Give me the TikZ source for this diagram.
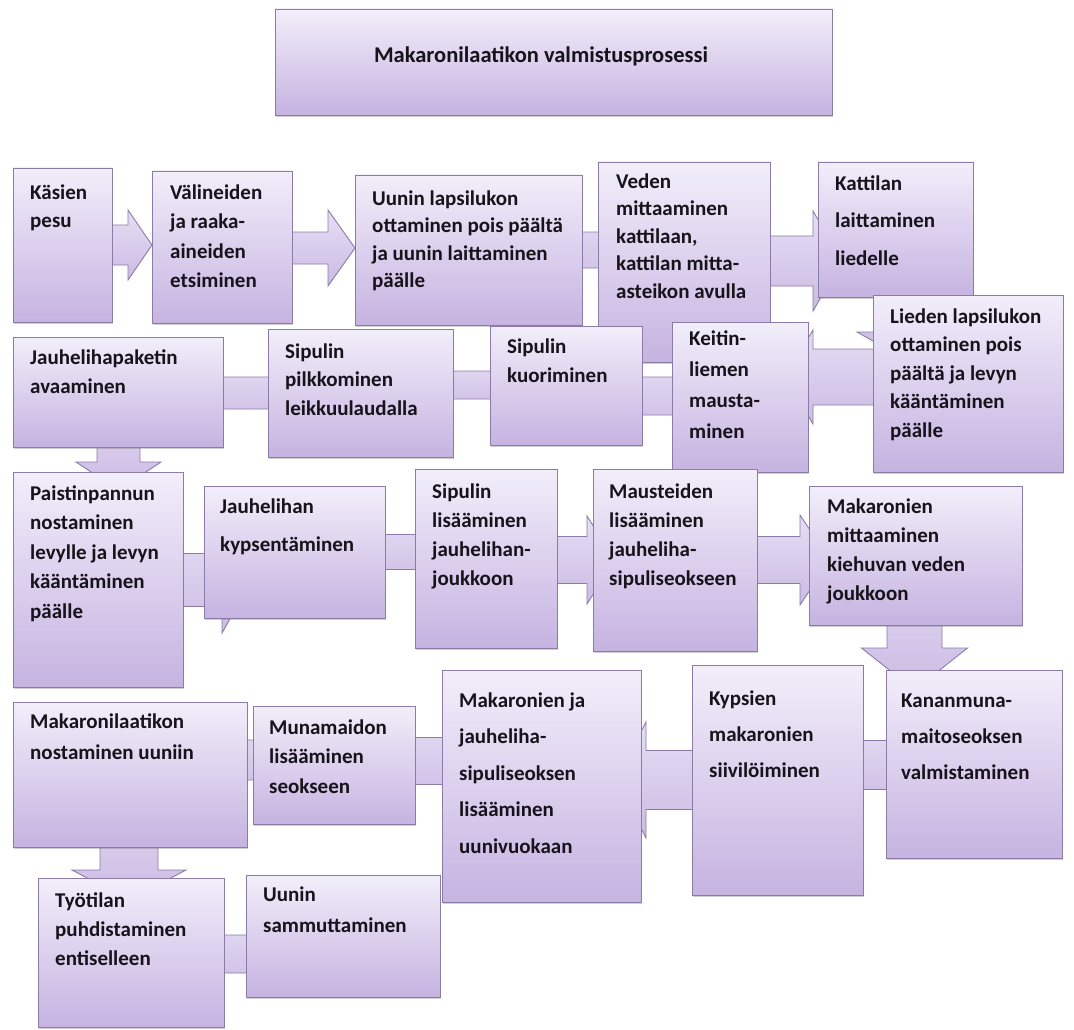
\documentclass[tikz,border=0pt]{standalone}
\usepackage{fontspec}
\setmainfont{Carlito}
\usetikzlibrary{fit,shadows,backgrounds}

\definecolor{boxtop}{HTML}{F2EEFA}
\definecolor{boxbot}{HTML}{C6B3E1}
\definecolor{boxline}{HTML}{8A7CA6}
\definecolor{arrtop}{HTML}{E6DEF4}
\definecolor{arrbot}{HTML}{CBBBE4}
\definecolor{ink}{HTML}{16131A}

\tikzset{
  box/.style={draw=boxline, line width=0.9pt, top color=boxtop, bottom color=boxbot,
    inner sep=0pt, drop shadow={shadow xshift=1.2pt, shadow yshift=-1.6pt, opacity=0.3, fill=black!60}},
  blk/.style={draw=boxline, line width=0.9pt, top color=arrtop, bottom color=arrbot, line join=miter},
  % labels are anchored at the baseline of their last line
  lbl/.style={anchor=base west, align=left, inner sep=0pt, text=ink,
    font=\fontsize{21}{#1}\selectfont\bfseries},
  lbl/.default=29,
}

% horizontal block arrow leaving node #1:
% #2 centre line y, #3 shaft half height, #4 head half height, #5 head base x, #6 tip x
\newcommand\blockH[6]{%
  \pgfmathsetmacro\sa{#2-#3}\pgfmathsetmacro\sb{#2+#3}%
  \pgfmathsetmacro\ha{#2-#4}\pgfmathsetmacro\hb{#2+#4}%
  \draw[blk] (#1.center |- 0,\sa) -- (#5,\sa) -- (#5,\ha) -- (#6,#2) -- (#5,\hb) -- (#5,\sb)
    -- (#1.center |- 0,\sb) -- cycle;}
% downward block arrow leaving node #1:
% #2 centre line x, #3 shaft half width, #4 head half width, #5 head base y, #6 tip y
\newcommand\blockV[6]{%
  \pgfmathsetmacro\sa{#2-#3}\pgfmathsetmacro\sb{#2+#3}%
  \pgfmathsetmacro\ha{#2-#4}\pgfmathsetmacro\hb{#2+#4}%
  \draw[blk] (\sa,0 |- #1.center) -- (\sa,#5) -- (\ha,#5) -- (#2,#6) -- (\hb,#5) -- (\sb,#5)
    -- (\sb,0 |- #1.center) -- cycle;}

\begin{document}
\begin{tikzpicture}[x=1pt, y=-1pt]
\useasboundingbox (0,0) rectangle (1074,1030);

% title
\node[box, fit={(275,9) (832,115)}] (title) {};
\node[anchor=base, inner sep=0pt, text=ink, font=\fontsize{22.5}{26}\selectfont\bfseries]
  (titletext) at (541,63) {Makaronilaatikon valmistusprosessi};

% process steps
\node[box, fit={(13,168) (112,322)}]   (b1) {};
\node[box, fit={(152,171) (292,323)}]  (b2) {};
\node[box, fit={(355,175) (582,325)}]  (b3) {};
\node[box, fit={(598,162) (770,362)}]  (b4) {};
\node[box, fit={(818,162) (973,297)}]  (b5) {};
\node[box, fit={(873,295) (1063,472)}] (b6) {};
\node[box, fit={(672,322) (808,472)}]  (b7) {};
\node[box, fit={(490,326) (642,445)}]  (b8) {};
\node[box, fit={(268,329) (453,457)}]  (b9) {};
\node[box, fit={(13,337) (223,447)}]   (b10) {};
\node[box, fit={(13,472) (183,687)}]   (b11) {};
\node[box, fit={(204,486) (385,618)}]  (b12) {};
\node[box, fit={(415,469) (557,648)}]  (b13) {};
\node[box, fit={(593,469) (757,651)}]  (b14) {};
\node[box, fit={(809,486) (1022,625)}] (b15) {};
\node[box, fit={(886,670) (1062,858)}] (b16) {};
\node[box, fit={(692,665) (863,895)}]  (b17) {};
\node[box, fit={(442,670) (641,902)}]  (b18) {};
\node[box, fit={(253,706) (415,824)}]  (b19) {};
\node[box, fit={(13,702) (247,847)}]   (b20) {};
\node[box, fit={(38,878) (224,1027)}]  (b21) {};
\node[box, fit={(246,875) (440,997)}]  (b22) {};

% step labels
\node[lbl=28]   (t1)  at (30,227)    {Käsien\\pesu};
\node[lbl=29.5] (t2)  at (170,287.5) {Välineiden\\ja raaka-\\aineiden\\etsiminen};
\node[lbl=27.5] (t3)  at (372,287.5) {Uunin lapsilukon\\ottaminen pois päältä\\ja uunin laittaminen\\päälle};
\node[lbl=27.5] (t4)  at (616,298)   {Veden\\mittaaminen\\kattilaan,\\kattilan mitta-\\asteikon avulla};
\node[lbl=37.5] (t5)  at (835,265)   {Kattilan\\laittaminen\\liedelle};
\node[lbl=28.5] (t6)  at (890,437)   {Lieden lapsilukon\\ottaminen pois\\päältä ja levyn\\kääntäminen\\päälle};
\node[lbl=31]   (t7)  at (689,438)   {Keitin-\\liemen\\mausta-\\minen};
\node[lbl=29]   (t8)  at (507,382)   {Sipulin\\kuoriminen};
\node[lbl=28.5] (t9)  at (285,415)   {Sipulin\\pilkkominen\\leikkuulaudalla};
\node[lbl=29]   (t10) at (30,393)    {Jauhelihapaketin\\avaaminen};
\node[lbl=29.5] (t11) at (30,618)    {Paistinpannun\\nostaminen\\levylle ja levyn\\kääntäminen\\päälle};
\node[lbl=38]   (t12) at (220,551)   {Jauhelihan\\kypsentäminen};
\node[lbl=29]   (t13) at (432,585)   {Sipulin\\lisääminen\\jauhelihan-\\joukkoon};
\node[lbl=29]   (t14) at (609,585)   {Mausteiden\\lisääminen\\jauheliha-\\sipuliseokseen};
\node[lbl=29]   (t15) at (827,600)   {Makaronien\\mittaaminen\\kiehuvan veden\\joukkoon};
\node[lbl=36]   (t16) at (901,779)   {Kananmuna-\\maitoseoksen\\valmistaminen};
\node[lbl=36]   (t17) at (709,777)   {Kypsien\\makaronien\\siivilöiminen};
\node[lbl=36.5] (t18) at (459,853)   {Makaronien ja\\jauheliha-\\sipuliseoksen\\lisääminen\\uunivuokaan};
\node[lbl=29.5] (t19) at (269,793)   {Munamaidon\\lisääminen\\seokseen};
\node[lbl=31]   (t20) at (30,759)    {Makaronilaatikon\\nostaminen uuniin};
\node[lbl=29]   (t21) at (55,965)    {Työtilan\\puhdistaminen\\entiselleen};
\node[lbl=31]   (t22) at (263,932)   {Uunin\\sammuttaminen};

% block arrows behind the steps
\begin{pgfonlayer}{background}
  \fill[white] (0,0) rectangle (1074,1030);
  \blockH{b1}{245}{20}{35}{128}{152}
  \blockH{b2}{248}{16}{38}{328}{355}
  \blockH{b3}{250}{18}{38}{602}{628}
  \blockH{b4}{261}{25}{50}{813}{842}
  \blockV{b5}{907}{27}{50}{332}{360}
  \blockH{b6}{377}{28}{47}{813}{785}
  \blockH{b7}{396}{19}{36}{637}{612}
  \blockH{b8}{385}{14}{30}{448}{425}
  \blockH{b9}{393}{16}{32}{218}{195}
  \blockV{b10}{118.5}{21.5}{42.5}{462}{490}
  \blockH{b11}{580}{26.5}{53}{222}{252}
  \blockH{b12}{552}{17.5}{35}{425}{450}
  \blockH{b13}{560}{23.5}{44}{587}{615}
  \blockH{b14}{560}{23.5}{45}{800}{830}
  \blockV{b15}{914.5}{27.5}{53}{648}{690}
  \blockH{b16}{765}{24.5}{45}{858}{830}
  \blockH{b17}{780}{29.5}{58}{646}{616}
  \blockH{b18}{761}{23.5}{45}{410}{385}
  \blockH{b19}{760}{20}{40}{243}{218}
  \blockV{b20}{129}{29}{57}{870}{900}
  \blockH{b21}{954}{19}{38}{250}{275}
\end{pgfonlayer}
\end{tikzpicture}
\end{document}
